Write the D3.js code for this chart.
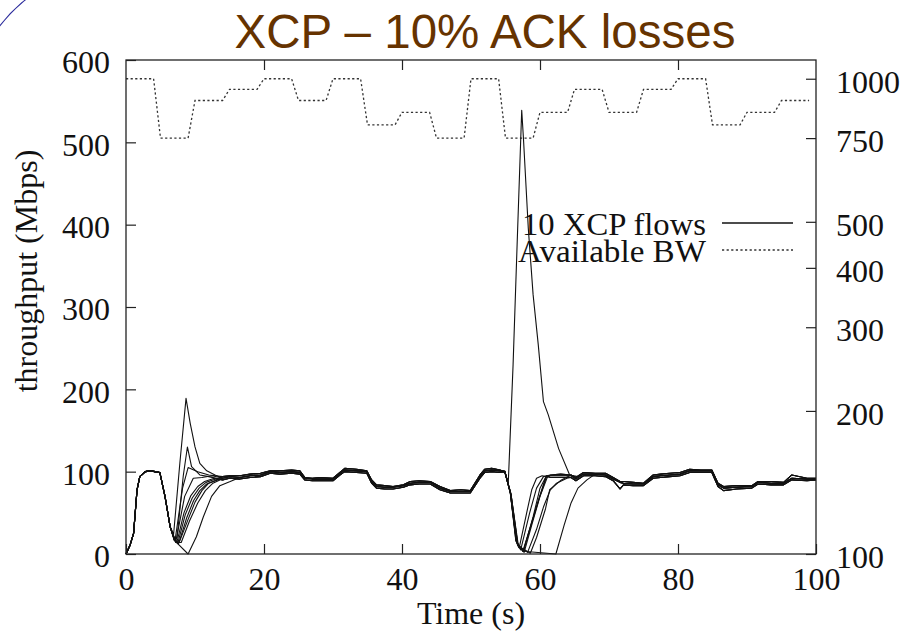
<!DOCTYPE html>
<html>
<head>
<meta charset="utf-8">
<script src="https://cdn.jsdelivr.net/npm/d3@7"></script>
<style>
  html, body { margin: 0; padding: 0; background: #fff; }
  svg { display: block; }
</style>
</head>
<body>
<svg id="chart" width="910" height="636"></svg>
<script>
// ---- data -------------------------------------------------------------
const chartTitle = "XCP \u2013 10% ACK losses";
const xTicks = [0, 20, 40, 60, 80, 100];
const yTicks = [0, 100, 200, 300, 400, 500, 600];
const y2Ticks = [100, 200, 300, 400, 500, 750, 1000];

// available bandwidth (right log axis), step changes every 5 s
const bwTime  = [0, 4, 5, 9, 10, 14, 15, 19, 20, 24, 25, 29, 30, 34, 35, 39, 40, 44, 45, 49,
                 50, 54, 55, 59, 60, 64, 65, 69, 70, 74, 75, 79, 80, 84, 85, 89, 90, 94, 95, 99];
const bwLevel = [1000, 1000, 750, 750, 900, 900, 950, 950, 1000, 1000, 900, 900, 1000, 1000, 800, 800, 850, 850, 750, 750,
                 1000, 1000, 750, 750, 850, 850, 950, 950, 850, 850, 950, 950, 1000, 1000, 800, 800, 850, 850, 900, 900];

// start-up ramp shared by all flows (Mbps)
const rampTime  = [0, 0.6, 1.1, 1.6, 2.0, 2.8, 3.5, 4.2, 4.9];
const rampValue = [0, 11, 25, 78, 94, 100, 101, 100, 99];

// steady-state throughput band: lower edge, middle and upper edge (Mbps)
const steadyTime = [14.0, 15.0, 16.5, 18.0, 19.5, 20.9, 22.3, 24.0, 25.2, 25.9, 27.0, 28.1, 30.0, 31.0, 31.7, 33.4, 34.9,
                    35.6, 36.3, 37.5, 38.7, 40.2, 41.2, 42.5, 44.1, 45.5, 47.0, 48.5, 49.9, 51.3, 52.0, 53.0, 54.2,
                    61.5, 63.0, 64.5, 65.2, 66.3, 68.0, 69.5, 70.6, 71.6, 72.1, 73.5, 75.0, 76.4, 77.5, 78.8, 80.3,
                    81.7, 83.3, 84.9, 85.8, 86.6, 88.5, 90.7, 91.6, 93.5, 95.3, 96.5, 98.7, 100];
const steadyLow  = [90, 92, 91, 93, 94, 98, 97, 98, 97, 90, 89, 89, 89, 96, 100, 99, 98,
                    86, 80, 79, 79, 81, 84, 85, 85, 78, 74, 74, 74, 92, 99, 100, 99,
                    93, 93, 93, 89, 95, 95, 94, 89, 79, 84, 83, 83, 92, 93, 94, 95,
                    99, 99, 99, 82, 77, 79, 80, 85, 84, 84, 90, 89, 90];
const steadyMid  = [92, 94, 93, 95, 96, 100, 99, 100, 99, 92, 91, 91, 91, 98, 102, 101, 100,
                    88, 82, 81, 81, 83, 86, 87, 87, 80, 76, 76, 76, 94, 101, 102, 101,
                    95, 95, 95, 91, 97, 97, 96, 91, 87, 86, 85, 85, 94, 95, 96, 97,
                    101, 101, 101, 84, 80, 81, 82, 87, 86, 86, 92, 91, 91];
const steadyHigh = [94, 95, 95, 97, 98, 101, 101, 102, 101, 93, 92, 93, 92, 99, 104, 103, 101,
                    90, 84, 83, 82, 84, 88, 89, 88, 82, 77, 78, 77, 96, 103, 104, 102,
                    96, 97, 96, 93, 99, 98, 98, 93, 88, 88, 87, 86, 96, 97, 98, 99,
                    103, 102, 102, 86, 82, 83, 83, 88, 88, 87, 96, 92, 92];

// which band edge each of the 10 flows follows in steady state
const flowBand = ["mid", "low", "high", "mid", "low", "high", "mid", "low", "high", "mid"];

// transient after the first bandwidth drop, one list of [time, Mbps] per flow
const earlyTransients = [
  [[5.65, 70], [6.4, 33], [6.9, 24], [7.8, 110], [8.7, 189], [9.3, 159], [10.0, 130], [10.7, 110], [11.7, 101], [12.9, 96]],
  [[5.65, 70], [6.4, 33], [7.0, 18], [7.4, 20], [8.3, 95], [8.9, 130], [9.5, 106], [10.7, 96], [12.0, 94]],
  [[5.65, 70], [6.4, 33], [7.1, 16], [8.2, 80], [9.0, 105], [10.4, 100], [12.0, 96]],
  [[5.65, 70], [6.4, 33], [7.2, 14], [8.5, 70], [9.75, 92], [11.0, 93], [12.5, 95]],
  [[5.65, 70], [6.4, 33], [7.0, 17], [7.5, 13], [8.6, 48], [9.6, 68], [10.6, 80], [11.6, 87], [13.0, 91]],
  [[5.65, 70], [6.4, 33], [7.0, 17], [7.6, 12], [8.8, 44], [9.8, 65], [10.7, 77], [11.7, 85], [13.1, 90]],
  [[5.65, 70], [6.4, 33], [7.0, 17], [7.7, 14], [9.0, 42], [10.0, 63], [11.0, 77], [12.0, 86], [13.3, 90]],
  [[5.65, 70], [6.4, 33], [7.0, 17], [7.4, 15], [8.4, 50], [9.4, 71], [10.4, 82], [11.4, 88], [12.8, 92]],
  [[5.65, 70], [6.4, 33], [7.3, 14], [8.0, 14], [9.2, 40], [10.4, 62], [11.5, 77], [12.6, 86], [13.6, 90]],
  [[5.65, 70], [6.4, 33], [7.2, 15], [9.0, 0], [10.2, 21], [11.2, 45], [12.4, 70], [13.6, 83], [15.1, 88]]
];

// transient after the second drop
const lateTransients = [
  [[54.9, 100], [55.4, 86], [56.1, 230], [56.7, 380], [57.35, 539], [57.6, 505], [58.3, 396], [59.0, 315], [59.75, 254],
   [60.5, 185], [61.2, 169], [62.7, 128], [64.3, 96], [65.5, 94]],
  [[54.9, 100], [55.7, 75], [56.5, 17], [57.0, 8], [58.2, 55], [58.8, 78], [59.5, 92], [60.3, 95]],
  [[54.9, 100], [55.7, 74], [56.5, 16], [57.2, 5], [58.5, 50], [59.5, 80], [60.5, 94]],
  [[54.9, 101], [55.7, 75], [56.6, 15], [57.5, 3], [58.5, 30], [59.8, 66], [60.9, 95]],
  [[54.9, 100], [55.7, 74], [56.6, 14], [57.6, 3], [58.6, 32], [59.9, 68], [61.0, 95]],
  [[54.9, 99], [55.8, 72], [56.7, 12], [57.7, 2], [58.8, 35], [60.0, 70], [61.1, 94]],
  [[54.9, 100], [55.7, 74], [56.6, 14], [57.6, 4], [59.0, 45], [60.0, 80], [60.8, 93]],
  [[54.9, 100], [55.8, 72], [56.8, 10], [58.2, 2], [59.5, 30], [60.5, 57], [61.5, 78], [62.4, 86], [63.9, 92]],
  [[54.9, 100], [55.8, 73], [56.8, 10], [58.6, 1], [59.5, 20], [60.8, 55], [61.4, 78], [63.1, 90]],
  [[54.9, 100], [55.8, 72], [56.9, 8], [58.0, 3], [62.3, 0], [63.5, 35], [64.5, 62], [65.5, 80], [66.8, 90]]
];

const legendLabels = ["10 XCP flows", "Available BW"];

// ---- layout -----------------------------------------------------------
const svg = d3.select("#chart");
const plotLeft = 126, plotRight = 816, plotTop = 60, plotBottom = 554;
const serifFont = "'Liberation Serif', 'Times New Roman', serif";

const x  = d3.scaleLinear().domain([0, 100]).range([plotLeft, plotRight]);
const y  = d3.scaleLinear().domain([0, 600]).range([plotBottom, plotTop]);
const y2 = d3.scaleLog().domain([100, 1095]).range([plotBottom, plotTop]);

// decorative arc in the corner
svg.append("path")
  .attr("d", d3.arc()({innerRadius: 150, outerRadius: 150, startAngle: -Math.PI * 0.62, endAngle: -Math.PI * 0.1}))
  .attr("transform", "translate(119,117)")
  .attr("fill", "none").attr("stroke", "#2b2b9c").attr("stroke-width", 1.1);

// title
svg.append("text")
  .attr("x", 485).attr("y", 48)
  .attr("text-anchor", "middle")
  .attr("font-family", "'Liberation Sans', Arial, sans-serif")
  .attr("font-size", 47.5)
  .attr("fill", "#663300")
  .text(chartTitle);

// ---- series -----------------------------------------------------------
const bands = {low: steadyLow, mid: steadyMid, high: steadyHigh};

function flowPoints(i) {
  const band = bands[flowBand[i]];
  const pts = rampTime.map((t, k) => [t, rampValue[k]]);
  const early = earlyTransients[i];
  pts.push(...early);
  const e = early[early.length - 1][0];
  steadyTime.forEach((t, k) => { if (t > e && t < 54.5) pts.push([t, band[k]]); });
  const late = lateTransients[i];
  pts.push(...late);
  const l = late[late.length - 1][0];
  steadyTime.forEach((t, k) => { if (t > l) pts.push([t, band[k]]); });
  return pts;
}

const bwLine = d3.line().x(d => x(d[0])).y(d => y2(d[1]));
svg.append("path")
  .datum(bwTime.map((t, k) => [t, bwLevel[k]]))
  .attr("d", bwLine)
  .attr("fill", "none")
  .attr("stroke", "#333")
  .attr("stroke-width", 1.3)
  .attr("stroke-dasharray", "2.2,2.4");

const flowLine = d3.line().x(d => x(d[0])).y(d => y(d[1]));
svg.append("g").selectAll("path")
  .data(d3.range(earlyTransients.length).map(flowPoints))
  .join("path")
  .attr("d", flowLine)
  .attr("fill", "none")
  .attr("stroke", "#111")
  .attr("stroke-width", 1.1)
  .attr("stroke-linejoin", "round");

// ---- axes -------------------------------------------------------------
const tickLen = 10;
function styleAxis(g) {
  g.select(".domain").remove();
  g.selectAll(".tick line").attr("stroke", "#222").attr("stroke-width", 1.2);
  g.selectAll(".tick text")
    .attr("font-family", serifFont)
    .attr("font-size", 32)
    .attr("fill", "#111");
}

svg.append("g").attr("transform", `translate(0,${plotBottom})`)
  .call(d3.axisBottom(x).tickValues(xTicks).tickSize(-tickLen).tickPadding(13).tickFormat(d3.format("d")))
  .call(styleAxis);

svg.append("g").attr("transform", `translate(0,${plotTop})`)
  .call(d3.axisTop(x).tickValues(xTicks.slice(1, -1)).tickSize(-tickLen).tickFormat(""))
  .call(styleAxis);

svg.append("g").attr("transform", `translate(${plotLeft},0)`)
  .call(d3.axisLeft(y).tickValues(yTicks).tickSize(-tickLen).tickPadding(16).tickFormat(d3.format("d")))
  .call(styleAxis)
  .selectAll(".tick text").attr("dy", "0.4em");

svg.append("g").attr("transform", `translate(${plotRight},0)`)
  .call(d3.axisRight(y2).tickValues(y2Ticks).tickSize(-tickLen).tickPadding(20).tickFormat(d3.format("d")))
  .call(styleAxis)
  .selectAll(".tick text").attr("dy", "0.42em");

// frame
svg.append("rect")
  .attr("x", plotLeft).attr("y", plotTop)
  .attr("width", plotRight - plotLeft).attr("height", plotBottom - plotTop)
  .attr("fill", "none").attr("stroke", "#222").attr("stroke-width", 1.3);

// axis titles
svg.append("text")
  .attr("x", 471).attr("y", 624)
  .attr("text-anchor", "middle")
  .attr("font-family", serifFont)
  .attr("font-size", 32).attr("fill", "#111")
  .text("Time (s)");

svg.append("text")
  .attr("transform", "translate(37,271) rotate(-90)")
  .attr("text-anchor", "middle")
  .attr("font-family", serifFont)
  .attr("font-size", 32).attr("fill", "#111")
  .text("throughput (Mbps)");

// ---- legend -----------------------------------------------------------
const legend = svg.append("g");
const legendRows = [{label: legendLabels[0], dash: null, base: 235, width: 184},
                    {label: legendLabels[1], dash: "2.2,2.4", base: 262, width: 188}];
legendRows.forEach(r => {
  legend.append("text")
    .attr("x", 706).attr("y", r.base)
    .attr("text-anchor", "end")
    .attr("font-family", serifFont)
    .attr("font-size", 31).attr("fill", "#111")
    .attr("textLength", r.width)
    .attr("lengthAdjust", "spacingAndGlyphs")
    .text(r.label);
  legend.append("line")
    .attr("x1", 722).attr("x2", 793)
    .attr("y1", r.base - 12).attr("y2", r.base - 12)
    .attr("stroke", r.dash ? "#333" : "#111")
    .attr("stroke-width", r.dash ? 1.3 : 1.4)
    .attr("stroke-dasharray", r.dash);
});
</script>
</body>
</html>
